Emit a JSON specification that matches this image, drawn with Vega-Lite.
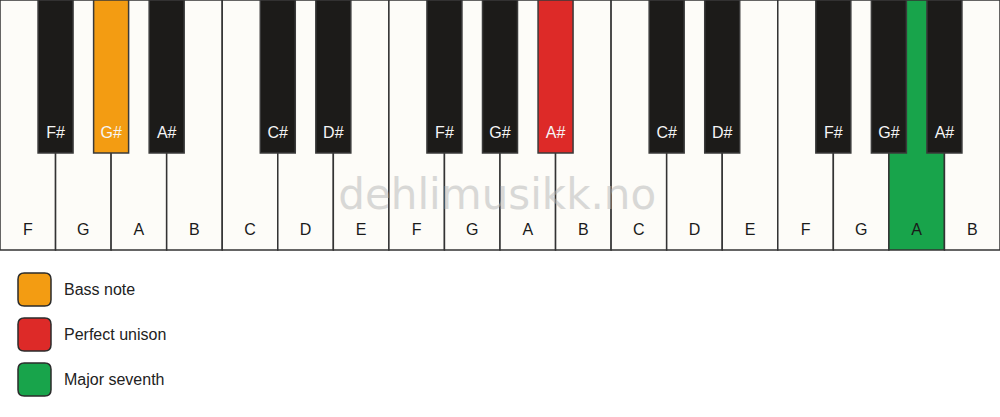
{
  "$schema": "https://vega.github.io/schema/vega-lite/v6.json",
  "width": 1000,
  "height": 417,
  "padding": 0,
  "autosize": {"type": "none"},
  "background": "#ffffff",
  "datasets": {
    "white": [
      {"note": "F", "slot": 0, "role": "white key"},
      {"note": "G", "slot": 1, "role": "white key"},
      {"note": "A", "slot": 2, "role": "white key"},
      {"note": "B", "slot": 3, "role": "white key"},
      {"note": "C", "slot": 4, "role": "white key"},
      {"note": "D", "slot": 5, "role": "white key"},
      {"note": "E", "slot": 6, "role": "white key"},
      {"note": "F", "slot": 7, "role": "white key"},
      {"note": "G", "slot": 8, "role": "white key"},
      {"note": "A", "slot": 9, "role": "white key"},
      {"note": "B", "slot": 10, "role": "white key"},
      {"note": "C", "slot": 11, "role": "white key"},
      {"note": "D", "slot": 12, "role": "white key"},
      {"note": "E", "slot": 13, "role": "white key"},
      {"note": "F", "slot": 14, "role": "white key"},
      {"note": "G", "slot": 15, "role": "white key"},
      {"note": "A", "slot": 16, "role": "Major seventh"},
      {"note": "B", "slot": 17, "role": "white key"}
    ],
    "black": [
      {"note": "F#", "slot": 1, "role": "black key"},
      {"note": "G#", "slot": 2, "role": "Bass note"},
      {"note": "A#", "slot": 3, "role": "black key"},
      {"note": "C#", "slot": 5, "role": "black key"},
      {"note": "D#", "slot": 6, "role": "black key"},
      {"note": "F#", "slot": 8, "role": "black key"},
      {"note": "G#", "slot": 9, "role": "black key"},
      {"note": "A#", "slot": 10, "role": "Perfect unison"},
      {"note": "C#", "slot": 12, "role": "black key"},
      {"note": "D#", "slot": 13, "role": "black key"},
      {"note": "F#", "slot": 15, "role": "black key"},
      {"note": "G#", "slot": 16, "role": "black key"},
      {"note": "A#", "slot": 17, "role": "black key"}
    ],
    "watermark": [
      {"label": "dehlimusikk.no", "slot": 8.95}
    ]
  },
  "config": {
    "view": {"stroke": null},
    "font": "Liberation Sans",
    "legend": {
      "labelFont": "Liberation Sans",
      "labelFontSize": 16,
      "labelColor": "#222222",
      "labelOffset": 12,
      "rowPadding": 6,
      "padding": 0,
      "symbolSize": 1089,
      "symbolStrokeColor": "#2b2b2b",
      "symbolStrokeWidth": 1.5,
      "symbolOpacity": 1
    }
  },
  "encoding": {
    "x": {
      "field": "slot",
      "type": "quantitative",
      "scale": {"domain": [0, 18], "nice": false, "zero": false, "padding": 0},
      "axis": null
    }
  },
  "layer": [
    {
      "data": {"name": "white"},
      "mark": {"type": "bar", "width": 55.56, "xOffset": 27.78, "stroke": "#333333", "strokeWidth": 1.5},
      "encoding": {
        "y": {
          "datum": 0,
          "type": "quantitative",
          "scale": {"domain": [0, 417], "reverse": true, "nice": false, "zero": false, "padding": 0},
          "axis": null
        },
        "y2": {"datum": 250},
        "color": {
          "field": "role",
          "type": "nominal",
          "scale": {
            "domain": ["Bass note", "Perfect unison", "Major seventh", "white key", "black key"],
            "range": ["#f39c12", "#dd2a28", "#18a44b", "#fdfcf8", "#1c1b19"]
          },
          "legend": {
            "title": null,
            "orient": "none",
            "legendX": 17,
            "legendY": 272,
            "direction": "vertical",
            "values": ["Bass note", "Perfect unison", "Major seventh"],
            "symbolType": "M -0.62 -1 L 0.62 -1 Q 1 -1 1 -0.62 L 1 0.62 Q 1 1 0.62 1 L -0.62 1 Q -1 1 -1 0.62 L -1 -0.62 Q -1 -1 -0.62 -1 Z"
          }
        }
      }
    },
    {
      "data": {"name": "white"},
      "mark": {"type": "text", "dx": 27.78, "fontSize": 16, "color": "#1a1a1a", "baseline": "middle", "align": "center"},
      "encoding": {
        "y": {"datum": 230, "type": "quantitative"},
        "text": {"field": "note"}
      }
    },
    {
      "data": {"name": "watermark"},
      "mark": {"type": "text", "font": "DejaVu Sans", "fontSize": 42, "color": "#b5b5b5", "opacity": 0.5, "baseline": "alphabetic", "align": "center"},
      "encoding": {
        "y": {"datum": 209, "type": "quantitative"},
        "text": {"field": "label"}
      }
    },
    {
      "data": {"name": "black"},
      "mark": {"type": "bar", "width": 35, "stroke": "#3a3a3a", "strokeWidth": 1.5},
      "encoding": {
        "y": {"datum": 0, "type": "quantitative"},
        "y2": {"datum": 153},
        "color": {"field": "role", "type": "nominal"}
      }
    },
    {
      "data": {"name": "black"},
      "mark": {"type": "text", "fontSize": 16, "color": "#f5f5f5", "baseline": "middle", "align": "center"},
      "encoding": {
        "y": {"datum": 133, "type": "quantitative"},
        "text": {"field": "note"}
      }
    }
  ]
}
